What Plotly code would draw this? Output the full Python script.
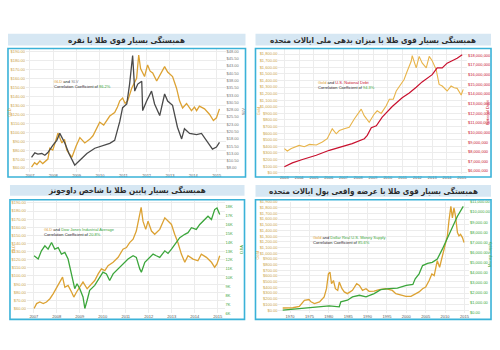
import plotly.graph_objects as go

W, H = 500, 350

# ---------------- data ----------------
# Panel 1: GLD vs SLV (2007-2015)
p1_gold_years = [2007.07, 2007.2, 2007.3, 2007.43, 2007.55, 2007.64, 2007.77, 2007.85, 2007.98, 2008.1, 2008.2,
                 2008.37, 2008.48, 2008.58, 2008.8, 2008.97, 2009.14, 2009.35, 2009.56, 2009.7, 2009.86, 2009.99,
                 2010.16, 2010.3, 2010.42, 2010.63, 2010.75, 2010.85, 2010.97, 2011.08, 2011.19, 2011.36, 2011.57,
                 2011.66, 2011.74, 2011.91, 2012.04, 2012.15, 2012.26, 2012.43, 2012.64, 2012.77, 2012.9, 2013.11,
                 2013.28, 2013.41, 2013.54, 2013.71, 2013.92, 2014.05, 2014.14, 2014.26, 2014.48, 2014.6, 2014.69,
                 2014.86, 2014.99, 2015.12]
p1_gold_vals = [61, 66, 64, 68, 65, 67, 70, 82, 80, 90, 99,
                88, 92, 80, 72, 84, 94, 88, 92, 96, 105, 111,
                108, 114, 118, 122, 128, 135, 138, 132, 135, 149, 160,
                186, 171, 162, 175, 168, 166, 157, 168, 173, 167, 162,
                149, 135, 127, 132, 124, 128, 124, 129, 126, 123, 120,
                113, 116, 126]
p1_silver_years = [2007.07, 2007.21, 2007.34, 2007.51, 2007.64, 2007.77, 2007.98, 2008.15, 2008.28, 2008.5, 2008.67,
                   2008.8, 2008.92, 2009.14, 2009.44, 2009.78, 2010.12, 2010.42, 2010.63, 2010.85, 2010.97, 2011.15,
                   2011.27, 2011.4, 2011.49, 2011.62, 2011.79, 2011.83, 2012.0, 2012.21, 2012.34, 2012.56, 2012.77,
                   2012.9, 2013.11, 2013.32, 2013.5, 2013.62, 2013.84, 2014.14, 2014.35, 2014.56, 2014.82, 2014.99,
                   2015.12]
p1_silver_vals = [11.7, 13.2, 12.8, 13.0, 12.4, 13.3, 15.8, 17.5, 19.9, 16.5, 13.0,
                  10.7, 9.0, 10.7, 13.0, 14.8, 15.8, 16.5, 17.5, 24.0, 28.7, 30.0,
                  36.8, 46.6, 34.4, 36.8, 37.8, 27.7, 31.0, 34.4, 30.0, 26.0, 33.4,
                  31.0, 29.5, 22.0, 18.0, 21.5, 19.9, 19.5, 19.9, 17.5, 14.5, 15.2,
                  16.8]
p1_left_ticks = [60, 70, 80, 90, 100, 110, 120, 130, 140, 150, 160, 170, 180, 190]
p1_right_ticks = [8, 10.5, 13, 15.5, 18, 20.5, 23, 25.5, 28, 30.5, 33, 35.5, 38, 40.5, 43, 45.5, 48]
p1_years = [2007, 2008, 2009, 2010, 2011, 2012, 2013, 2014, 2015]

# Panel 2: Gold vs U.S. National Debt (2003-2015), debt in $ trillions
p2_gold_years = [2003.0, 2003.2, 2003.47, 2004.0, 2004.35, 2004.7, 2005.16, 2005.57, 2005.9, 2006.24, 2006.51,
                 2006.72, 2007.05, 2007.39, 2007.73, 2008.2, 2008.4, 2008.74, 2009.08, 2009.28, 2009.55, 2009.89,
                 2010.1, 2010.37, 2010.57, 2010.9, 2011.1, 2011.31, 2011.58, 2011.65, 2011.78, 2011.92, 2012.12,
                 2012.32, 2012.6, 2012.8, 2013.0, 2013.27, 2013.47, 2013.68, 2014.01, 2014.28, 2014.49, 2014.69,
                 2014.96, 2015.1]
p2_gold_vals = [366, 330, 366, 415, 395, 430, 420, 465, 516, 666, 591,
                640, 666, 690, 815, 965, 865, 765, 890, 940, 900, 1015,
                1115, 1115, 1240, 1340, 1415, 1540, 1690, 1775, 1700, 1590, 1765,
                1665, 1590, 1765, 1700, 1565, 1340, 1315, 1240, 1315, 1290, 1280,
                1180, 1265]
p2_debt_years = [2003.0, 2003.54, 2004.22, 2005.16, 2006.04, 2006.92, 2007.59, 2008.41, 2008.61, 2008.88, 2009.22,
                 2009.62, 2010.3, 2010.97, 2011.45, 2011.92, 2012.32, 2013.0, 2013.34, 2013.68, 2014.01, 2014.35,
                 2014.69, 2015.03]
p2_debt_vals = [6.44, 6.85, 7.2, 7.64, 8.15, 8.56, 8.84, 9.35, 9.7, 10.5, 10.7,
                11.6, 12.7, 13.6, 14.1, 14.7, 15.25, 16.0, 16.7, 16.7, 17.2, 17.45,
                17.7, 18.07]
p2_left_ticks = list(range(0, 1900, 100))
p2_right_ticks = [6, 7, 8, 9, 10, 11, 12, 13, 14, 15, 16, 17, 18]
p2_years = list(range(2003, 2016))

# Panel 3: GLD vs Dow Jones Industrial Average (2007-2015)
p3_gold_years = [2007.01, 2007.12, 2007.26, 2007.41, 2007.55, 2007.7, 2007.84, 2007.99, 2008.13, 2008.25, 2008.35,
                 2008.49, 2008.64, 2008.74, 2008.86, 2009.0, 2009.14, 2009.32, 2009.46, 2009.65, 2009.8, 2009.94,
                 2010.09, 2010.23, 2010.45, 2010.67, 2010.88, 2011.03, 2011.17, 2011.32, 2011.46, 2011.58, 2011.67,
                 2011.75, 2011.87, 2011.97, 2012.12, 2012.26, 2012.48, 2012.7, 2012.84, 2012.99, 2013.13, 2013.27,
                 2013.42, 2013.57, 2013.71, 2013.93, 2014.14, 2014.29, 2014.51, 2014.73, 2014.87, 2014.97, 2015.09]
p3_gold_vals = [60, 66, 68, 66, 68, 72, 78, 86, 92.5, 98.6, 86,
                88.3, 80.3, 74, 80.3, 86, 92.5, 84.3, 88.3, 94.4, 102.6, 108.7,
                106.7, 112.7, 116.9, 123, 133.1, 135.1, 141.2, 145.3, 155.4, 171.7, 184.6,
                167.6, 157.5, 167.6, 155.4, 151.4, 157.5, 171.7, 167.6, 163.5, 151.4, 141.2,
                127, 116.9, 124.9, 120.9, 118.8, 127, 123, 116.9, 110.8, 114.8, 124.9]
p3_dow_years = [2007.01, 2007.19, 2007.33, 2007.48, 2007.62, 2007.77, 2007.91, 2008.06, 2008.2, 2008.35, 2008.49,
                2008.64, 2008.78, 2008.88, 2009.0, 2009.14, 2009.22, 2009.32, 2009.43, 2009.65, 2009.87, 2010.01,
                2010.16, 2010.3, 2010.45, 2010.67, 2010.88, 2011.1, 2011.32, 2011.46, 2011.61, 2011.68, 2011.83,
                2011.97, 2012.19, 2012.33, 2012.48, 2012.7, 2012.84, 2012.99, 2013.13, 2013.35, 2013.57, 2013.71,
                2013.86, 2014.07, 2014.22, 2014.43, 2014.58, 2014.73, 2014.87, 2014.97, 2015.09]
p3_dow_vals = [12477, 12110, 13035, 13590, 13220, 13960, 13220, 13400, 12666, 12850, 12110,
               10440, 8774, 9330, 8774, 7850, 6550, 7470, 8590, 9150, 10070, 10630,
               10440, 9700, 10440, 11000, 11550, 12110, 12480, 12300, 11000, 10630, 11740,
               12110, 12666, 12480, 12300, 13035, 12740, 13220, 13780, 14520, 14890, 15075,
               15630, 15445, 16000, 16560, 16930, 16560, 17670, 17860, 17110]
p3_left_ticks = [60, 70, 80, 90, 100, 110, 120, 130, 140, 150, 160, 170, 180, 190]
p3_right_ticks = list(range(6000, 19000, 1000))
p3_years = [2007, 2008, 2009, 2010, 2011, 2012, 2013, 2014, 2015]

# Panel 4: Gold vs real U.S. money supply (1968-2015), money supply in $ billions
p4_gold_years = [1968.1, 1970.7, 1972.4, 1973.7, 1974.9, 1975.4, 1976.3, 1977.6, 1978.8, 1979.4, 1979.9,
                 1980.3, 1980.7, 1981.2, 1981.7, 1982.3, 1982.7, 1983.4, 1984.0, 1984.8, 1986.1, 1987.2,
                 1987.9, 1988.7, 1989.6, 1990.4, 1991.7, 1993.0, 1994.7, 1996.4, 1997.3, 1998.6, 1999.9,
                 2001.2, 2002.4, 2003.3, 2004.2, 2005.0, 2005.9, 2006.6, 2007.2, 2008.0, 2008.6, 2009.3,
                 2010.0, 2010.6, 2011.0, 2011.5, 2011.9, 2012.3, 2012.7, 2013.2, 2013.6, 2014.0, 2014.5,
                 2014.9]
p4_gold_vals = [38, 42, 65, 174, 186, 146, 116, 146, 233, 377, 637,
                667, 464, 521, 377, 347, 493, 377, 320, 290, 347, 464,
                434, 347, 377, 330, 335, 360, 377, 347, 290, 261, 243,
                243, 290, 320, 377, 406, 521, 637, 608, 869, 754, 955,
                1101, 1303, 1563, 1824, 1622, 1796, 1650, 1362, 1303, 1332, 1275,
                1188]
p4_money_years = [1968.1, 1972.4, 1976.7, 1980.1, 1982.7, 1983.1, 1984.8, 1986.1, 1987.9, 1989.6, 1991.7,
                  1993.4, 1995.6, 1997.7, 2000.0, 2001.7, 2002.3, 2003.3, 2004.2, 2005.5, 2006.7, 2008.0,
                  2009.3, 2010.6, 2011.9, 2013.2, 2014.7]
p4_money_vals = [255, 422, 589, 687, 589, 1080, 1240, 1570, 1730, 1570, 1900,
                 2290, 2390, 2450, 2710, 2810, 3370, 3860, 4680, 4910, 5010, 5330,
                 6315, 7460, 8600, 9590, 10570]
p4_left_ticks = list(range(0, 2000, 100))
p4_right_ticks = list(range(0, 12000, 1000))
p4_years = list(range(1970, 2020, 5))

titles = [
    "همبستگی بسیار قوی طلا با نقره",
    "همبستگی بسیار قوی طلا با میزان بدهی ملی ایالات متحده",
    "همبستگی بسیار پایین طلا با شاخص داوجونز",
    "همبستگی بسیار قوی طلا با عرضه واقعی پول ایالات متحده",
]

GOLD = "#dca233"
SILVER = "#4a4a4a"
RED = "#c8102e"
GREEN = "#3ca63c"
FRAME = "#3ab2d8"
BAR = "#d6e7f3"
GRID = "#ececec"
FONT = "Liberation Sans"


def px(x):
    return x / W


def py(y):
    return 1 - y / H


fig = go.Figure()

fig.add_trace(go.Scatter(x=p1_gold_years, y=p1_gold_vals, mode="lines",
                         line=dict(color=GOLD, width=1.3), xaxis="x", yaxis="y"))
fig.add_trace(go.Scatter(x=p1_silver_years, y=p1_silver_vals, mode="lines",
                         line=dict(color=SILVER, width=1.3), xaxis="x", yaxis="y2"))
fig.add_trace(go.Scatter(x=p2_gold_years, y=p2_gold_vals, mode="lines",
                         line=dict(color="#e8b44a", width=1.1), xaxis="x2", yaxis="y3"))
fig.add_trace(go.Scatter(x=p2_debt_years, y=p2_debt_vals, mode="lines",
                         line=dict(color=RED, width=1.2), xaxis="x2", yaxis="y4"))
fig.add_trace(go.Scatter(x=p3_gold_years, y=p3_gold_vals, mode="lines",
                         line=dict(color=GOLD, width=1.3), xaxis="x3", yaxis="y5"))
fig.add_trace(go.Scatter(x=p3_dow_years, y=p3_dow_vals, mode="lines",
                         line=dict(color=GREEN, width=1.3), xaxis="x3", yaxis="y6"))
fig.add_trace(go.Scatter(x=p4_gold_years, y=p4_gold_vals, mode="lines",
                         line=dict(color=GOLD, width=1.3), xaxis="x4", yaxis="y7"))
fig.add_trace(go.Scatter(x=p4_money_years, y=p4_money_vals, mode="lines",
                         line=dict(color=GREEN, width=1.3), xaxis="x4", yaxis="y8"))

tick_font = dict(family=FONT, size=4, color="#555")


def xax(x0, x1, y1_anchor, rng, years):
    return dict(domain=[px(x0), px(x1)], range=rng, tickvals=years,
                ticktext=[str(v) for v in years], tickfont=tick_font,
                showgrid=True, gridcolor=GRID, gridwidth=0.6, zeroline=False,
                showline=False, ticks="", fixedrange=True, anchor=y1_anchor)


def yleft(y0, y1, rng, vals, text, color, xanchor):
    return dict(domain=[py(y1), py(y0)], range=rng, tickvals=vals, ticktext=text,
                tickfont=dict(family=FONT, size=4, color=color), showgrid=True,
                gridcolor=GRID, gridwidth=0.6, zeroline=False, showline=False,
                ticks="", anchor=xanchor)


def yright(rng, vals, text, color, xanchor, over):
    return dict(range=rng, tickvals=vals, ticktext=text, overlaying=over, side="right",
                tickfont=dict(family=FONT, size=4, color=color), showgrid=False,
                zeroline=False, showline=False, ticks="", anchor=xanchor)


def money(v, dec=2):
    return "${:,.{d}f}".format(v, d=dec)


layout = dict(
    width=W, height=H, margin=dict(l=0, r=0, t=0, b=0),
    paper_bgcolor="white", plot_bgcolor="white", showlegend=False,
    xaxis=xax(26, 226, "y", [2006.83, 2015.38], p1_years),
    yaxis=yleft(48, 172, [55.6, 192.2], p1_left_ticks, [money(v) for v in p1_left_ticks], "#c9a24a", "x"),
    yaxis2=yright([6.64, 48.68], p1_right_ticks, [money(v) for v in p1_right_ticks], "#777", "x", "y"),
    xaxis2=xax(279, 468, "y3", [2002.6, 2015.36], p2_years),
    yaxis3=yleft(48, 174, [-19.5, 1870], p2_left_ticks, [money(v) for v in p2_left_ticks], "#c9a24a", "x2"),
    yaxis4=yright([5.69, 18.62], p2_right_ticks, ["${:,}".format(v * 1000000) for v in p2_right_ticks],
                  RED, "x2", "y3"),
    xaxis3=xax(27, 225, "y5", [2006.7, 2015.3], p3_years),
    yaxis5=yleft(201, 315, [53.9, 192.8], p3_left_ticks, [money(v) for v in p3_left_ticks], "#c9a24a", "x3"),
    yaxis6=yright([5994, 18670], p3_right_ticks, ["{}K".format(v // 1000) for v in p3_right_ticks],
                  GREEN, "x3", "y5"),
    xaxis4=xax(279, 470, "y7", [1967.0, 2016.2], p4_years),
    yaxis7=yleft(202, 315, [-57, 1905], p4_left_ticks, [money(v) for v in p4_left_ticks], "#c9a24a", "x4"),
    yaxis8=yright([-69, 11030], p4_right_ticks, [money(v) for v in p4_right_ticks], GREEN, "x4", "y7"),
)
fig.update_layout(**layout)

# Panel frames and title bars
panels = [
    # (box x0, y0, x1, y1, bar y0, y1)
    (8, 47, 246, 177, 32, 44),
    (256, 47, 492, 177, 32, 44),
    (10, 200, 245, 321, 185, 196),
    (256, 200, 492, 321, 185, 197),
]
shapes = []
annotations = []
for i, (x0, y0, x1, y1, by0, by1) in enumerate(panels):
    shapes.append(dict(type="rect", xref="paper", yref="paper", x0=px(x0), x1=px(x1),
                       y0=py(by1), y1=py(by0), fillcolor=BAR, line=dict(width=0), layer="below"))
    shapes.append(dict(type="rect", xref="paper", yref="paper", x0=px(x0), x1=px(x1),
                       y0=py(y1), y1=py(y0), line=dict(color=FRAME, width=1.6)))
    annotations.append(dict(xref="paper", yref="paper", x=px((x0 + x1) / 2), y=py((by0 + by1) / 2),
                            text="<b>" + titles[i] + "</b>", showarrow=False, xanchor="center",
                            yanchor="middle",
                            font=dict(family="DejaVu Sans Condensed, DejaVu Sans", size=8, color="#2b2b2b")))


def note(x, y, text):
    annotations.append(dict(xref="paper", yref="paper", x=px(x), y=py(y), text=text, showarrow=False,
                            xanchor="left", yanchor="top", align="left",
                            font=dict(family=FONT, size=4, color="#222")))


def side_label(x, y, text, color):
    annotations.append(dict(xref="paper", yref="paper", x=px(x), y=py(y), text=text, showarrow=False,
                            textangle=-90, xanchor="center", yanchor="middle",
                            font=dict(family=FONT, size=4, color=color)))


def span(t, c):
    return "<span style='color:%s'>%s</span>" % (c, t)


note(52, 76, span("GLD", GOLD) + " and " + span("SLV", "#888") +
     "<br>Correlation Coefficient of " + span("86.2%", GREEN))
note(317, 77, span("Gold", GOLD) + " and " + span("U.S. National Debt", RED) +
     "<br>Correlation Coefficient of " + span("94.3%", GREEN))
note(42, 226, span("GLD", GOLD) + " and " + span("Dow Jones Industrial Average", GREEN) +
     "<br>Correlation Coefficient of " + span("20.8%", GREEN))
note(312, 234, span("Gold", GOLD) + " and " + span("Dollar Real U.S. Money Supply", GREEN) +
     "<br>Correlation Coefficient of " + span("85.6%", GREEN))

side_label(10, 112, "GLD", GOLD)
side_label(244, 111, "SLV", "#777")
side_label(259, 110, "Gold", GOLD)
side_label(489, 112, "National Debt", RED)
side_label(13, 250, "GLD", GOLD)
side_label(242, 250, "DJIA", GREEN)
side_label(258, 256, "Gold", GOLD)
side_label(490, 256, "Money Supply", GREEN)

fig.update_layout(shapes=shapes, annotations=annotations)

fig.write_html("out.html")
